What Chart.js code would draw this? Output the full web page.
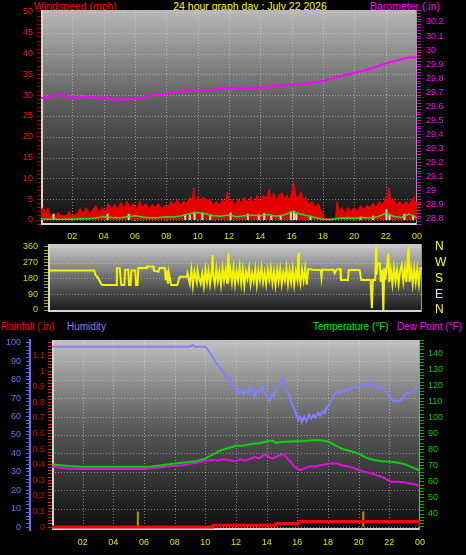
<!DOCTYPE html>
<html><head><meta charset="utf-8">
<script src="https://cdn.jsdelivr.net/npm/chart.js@4.4.1/dist/chart.umd.min.js"></script>
<style>
html,body{margin:0;padding:0;background:#000;width:466px;height:555px;overflow:hidden;}
canvas{position:absolute;left:0;}
.t{position:absolute;font-family:"Liberation Sans",Arial,sans-serif;font-size:10.5px;white-space:nowrap;line-height:12px;}
.b{font-size:10px;}
</style></head><body>
<div class="t" style="left:34px;top:0px;color:#ff0000">Windspeed (mph)</div>
<div class="t" style="left:150px;width:200px;text-align:center;top:0px;color:#ffff00">24 hour graph day : July 22 2026</div>
<div class="t" style="right:26px;top:0px;color:#ff00ff">Barometer (.in)</div>
<div class="t b" style="left:1px;top:321px;color:#ff0000">Rainfall (.in)</div>
<div class="t b" style="left:67px;top:321px;color:#8080ff">Humidity</div>
<div class="t b" style="left:313px;top:321px;color:#00ee00">Temperature (°F)</div>
<div class="t b" style="right:4px;top:321px;color:#ff00ff">Dew Point (°F)</div>
<canvas id="c1" width="466" height="245" style="top:0px"></canvas>
<canvas id="c2" width="466" height="82" style="top:238px"></canvas>
<canvas id="c3" width="466" height="216" style="top:334px"></canvas>
<script>
// ---------- tick labels ----------
const hourTickLabels = ['02','04','06','08','10','12','14','16','18','20','22','00'];
const hourTickValues = [2,4,6,8,10,12,14,16,18,20,22,24];
const windTickLabels = [0,5,10,15,20,25,30,35,40,45,50];
const baroTickLabels = [28.8,28.9,29,29.1,29.2,29.3,29.4,29.5,29.6,29.7,29.8,29.9,30,30.1,30.2];
const dirTickLabels = [0,90,180,270,360];
const compassLabels = ['N','E','S','W','N'];
const humidityTickLabels = [0,10,20,30,40,50,60,70,80,90,100];
const rainTickLabels = [0,0.1,0.2,0.3,0.4,0.5,0.6,0.7,0.8,0.9,1,1.1];
const tempTickLabels = [40,50,60,70,80,90,100,110,120,130,140];

// ---------- wind (mph) ----------
const windGustHours = [0,0.15,0.3,0.45,0.6,0.9,1.1,1.3,1.6,1.8,
  2.0,2.3,2.5,2.7,2.9,3.1,3.3,3.5,3.7,3.9,
  4.1,4.3,4.5,4.7,4.9,5.1,5.3,5.5,5.7,5.9,
  6.1,6.3,6.5,6.7,6.9,7.1,7.3,7.5,7.7,7.9,
  8.1,8.3,8.5,8.7,8.9,9.1,9.3,9.5,9.65,9.75,
  9.85,10.0,10.2,10.4,10.6,10.8,11.0,11.2,11.4,11.6,
  11.75,11.9,12.05,12.2,12.4,12.6,12.8,13.0,13.2,13.4,
  13.6,13.8,14.0,14.2,14.4,14.55,14.7,14.85,15.0,15.2,
  15.4,15.55,15.7,15.85,16.0,16.13,16.25,16.4,16.6,16.75,
  16.9,17.1,17.3,17.5,17.7,17.85,18.0,18.1,18.8,18.9,
  19.05,19.2,19.4,19.6,19.8,20.0,20.2,20.4,20.6,20.8,
  21.0,21.2,21.4,21.6,21.8,22.0,22.1,22.2,22.35,22.5,
  22.7,22.9,23.1,23.3,23.5,23.7,23.8,23.9,24];
const windGust = [2.5,3,1.5,2.8,1,1,1.8,1,1,2,
  1,1.5,2.8,1.5,3,1.2,2.5,3.5,1.5,3,
  2,4,2.5,3.8,2.5,4.2,2.8,4.5,3,4,
  2.5,4.5,3,4,2.5,3.8,3,4,2.5,3.5,
  3,4.5,3.5,5,3.5,4.5,4,5.5,4.5,7.8,
  4,5.5,4.8,5.5,4.5,5,3.5,4.5,3.5,5,
  4,6.6,4,5,3.5,5,4,5.5,4,5.5,
  4,6,4.5,6,5,7.4,4.5,6.5,4.5,6,
  6.5,5,6,4.5,6.5,9,6,5,6.8,4.5,
  5.5,3.5,4.5,3,4,2.5,1.5,0.3,0.3,4.4,
  2,3,1.5,3,2,3,2,3.5,2.5,3.5,
  3,4,3,4.5,3.5,5.5,4,7.8,4.5,5,
  3.5,4.5,3.5,4.5,3.5,5,5.5,4,4.5];
const windAvgHours = [0,0.5,1,1.5,2,2.5,3,3.5,4,4.5,5,5.5,6,6.5,7,7.5,8,8.5,9,9.5,10,10.5,11,11.5,12,
  12.5,13,13.5,14,14.5,15,15.5,16,16.5,17,17.5,18,18.5,19,19.5,20,20.5,21,21.5,22,22.5,23,23.5,24];
const windAvg = [0.3,0.2,0.2,0.2,0.2,0.3,0.3,0.5,0.8,0.6,0.5,0.8,1.0,0.7,0.5,0.6,0.8,0.7,1.0,1.5,1.8,1.5,1.0,0.9,1.2,
  0.8,1.0,1.2,1.0,1.3,0.9,1.2,2.0,1.5,1.0,0.6,0.2,0.1,0.4,0.5,0.4,0.6,0.5,0.8,1.6,0.9,0.6,1.4,0.5];
const windLightHours = [0.8,4.25,5.6,9.2,9.5,9.8,10.3,10.8,12.1,13.2,13.9,14.25,14.7,15.3,15.95,16.15,16.3,17.2,20.4,21.2,22.05,22.25,23.2,23.75];
const windLight = [1.5,1.5,1.5,1.4,1.2,2,1.8,1.2,1.8,1.5,1.3,1.6,1.2,1.2,2,2.2,1.5,1,0.8,1,2.6,1.5,1.5,1.2];

// ---------- barometer (in) ----------
const baroHours = [0,0.5,1,1.5,2,2.5,3,3.5,4,4.5,5,5.5,6,6.5,7,7.5,8,8.5,9,9.5,10,10.5,11,11.5,12,
  12.5,13,13.5,14,14.5,15,15.5,16,16.5,17,17.5,18,18.5,19,19.5,20,20.5,21,21.5,22,22.5,23,23.5,24];
const baroValues = [29.66,29.67,29.68,29.675,29.66,29.665,29.67,29.66,29.665,29.645,
  29.65,29.65,29.655,29.665,29.68,29.685,29.69,29.698,29.705,29.717,
  29.715,29.717,29.718,29.725,29.733,29.73,29.73,29.732,29.73,29.735,
  29.748,29.75,29.752,29.758,29.763,29.77,29.78,29.795,29.81,29.825,
  29.838,29.85,29.868,29.885,29.905,29.92,29.935,29.948,29.95];

// ---------- wind direction (deg) ----------
const dirHours = [0,2.97,3.05,3.2,3.4,3.5,4.4,4.42,4.6,4.7,4.9,4.95,5.15,5.2,5.3,5.35,5.6,5.65,5.75,5.8,6.3,6.35,6.75,6.8,7.1,7.15,7.5,7.55,7.6,7.7,7.75,7.9,8.3,8.35,8.45,8.9,8.95,9.1,9.2,9.3,9.4,9.55,9.6,9.7,9.8,9.9,10.0,10.1,10.2,10.3,10.4,10.5,10.57,10.6,10.7,10.8,10.9,11.0,11.1,11.2,11.3,11.4,11.5,11.58,11.62,11.7,11.8,11.9,12.0,12.1,12.2,12.3,12.4,12.5,12.6,12.7,12.8,12.9,13.0,13.1,13.2,13.3,13.4,13.5,13.6,13.7,13.8,13.9,14.0,14.1,14.2,14.3,14.4,14.5,14.6,14.7,14.8,14.9,15.0,15.1,15.2,15.3,15.4,15.5,15.6,15.7,15.8,15.9,16.0,16.07,16.1,16.2,16.3,16.4,16.5,16.6,16.7,17.0,17.5,17.55,17.6,18.3,18.4,18.5,18.75,18.8,19.25,19.3,20.0,20.1,20.7,20.78,20.85,21.0,21.05,21.08,21.15,21.3,21.35,21.45,21.52,21.58,21.65,21.75,21.84,21.9,22.0,22.1,22.2,22.3,22.4,22.5,22.6,22.7,22.8,22.9,23.0,23.13,23.2,23.3,23.4,23.5,23.6,23.7,23.8,23.9,24];
const dirDegrees = [225,225,200,185,150,143,143,238,238,143,143,230,230,143,143,225,225,143,143,240,240,248,248,225,220,240,240,170,230,150,215,143,143,160,190,190,210,150,230,140,220,160,225,180,150,210,140,230,160,225,150,215,314,200,150,235,165,220,145,240,170,230,150,324,190,230,160,240,150,225,170,245,155,230,140,220,180,240,150,210,165,235,145,225,170,240,160,215,150,230,175,240,155,220,145,230,165,235,150,215,170,240,150,225,160,235,145,220,175,327,200,150,230,170,240,145,235,230,228,185,230,230,210,230,235,171,171,228,228,171,171,10,171,171,360,200,267,267,160,230,0,240,170,250,324,160,230,150,240,165,230,150,225,257,165,240,160,360,160,235,150,240,160,235,150,240,240];

// ---------- humidity (%) ----------
const humHours = [0,9.0,9.2,9.3,10.0,10.2,10.4,10.5,10.65,10.8,10.9,11.1,11.3,11.5,11.6,11.75,11.9,12.0,12.1,12.2,12.35,12.5,12.6,12.75,12.9,13.0,13.1,13.2,13.35,13.5,13.7,13.8,13.95,14.1,14.2,14.3,14.45,14.6,14.75,14.9,15.05,15.15,15.3,15.45,15.6,15.75,15.9,16.05,16.15,16.3,16.45,16.6,16.75,16.9,17.05,17.2,17.35,17.5,17.65,17.8,17.9,18.05,18.2,18.4,18.6,18.8,19.0,19.2,19.4,19.6,19.8,20.0,20.2,20.4,20.6,20.8,21.0,21.2,21.4,21.6,21.8,22.0,22.2,22.4,22.6,22.8,23.0,23.2,23.4,23.6,23.8,24];
const humidity = [98,98,99,98,98,96,93.5,92,90,88,87,85,82.5,80,81,77,76,74,75,72.5,74,72,74,73,76,74,75,70.5,74,73,77,74,72,70,68.5,72,71,74.5,76,79,81,78,74,72,68,65,62,58,60,57,60,57.5,61,59,61,59.5,62,60.5,63,62,64.5,66,69,71.5,73.5,73,74.5,74,75,75.5,76.5,76,77,77.5,77,78.3,76.5,75.5,76,74.5,74,71,69,68.5,68.5,69,72,73,73,74.5,76,75];

// ---------- temperature / dew point (F) ----------
const tempHours = [0,1,2,4,6,6.5,7.5,8.5,9.5,10,10.5,11,11.5,12,12.5,13,13.5,14,14.4,14.6,15,15.5,16,16.5,17,17.5,18,18.5,19,19.5,20,20.5,21,21.5,22,22.5,23,23.5,24];
const temperature = [70.9,69.8,69.4,69.4,69.4,69.5,70.8,71.8,73,74.5,77,79.5,81,82.4,82.6,83.5,84,85,85.6,84.2,84.7,85.1,85.2,85.4,85.8,85.8,85,82.5,80.2,79,77.5,75,73.5,72.8,72.6,72,71,69,67];
const dewHours = [0,1,2,4,6,6.5,7.5,8.5,9.5,10,10.4,10.8,11.2,11.5,12,12.3,12.6,13,13.2,13.5,13.8,14,14.2,14.4,14.7,15.1,15.4,15.6,15.8,16,16.2,16.5,16.9,17.2,17.5,17.8,18.2,18.6,18.9,19.3,19.7,20.3,20.8,21.2,21.6,21.9,22.1,22.5,23,23.3,23.6,23.8,24];
const dewPoint = [69.4,68.3,68,68,68,68.4,69.5,70.3,72,73,73.5,73.2,74,73.5,72.8,74,73.2,74.5,75.5,74.5,76.5,76.6,75,74.5,76,77.3,74,72,69.5,68,67.3,68.5,69.8,69.5,70.3,70.7,71.5,71.3,70.3,69.5,68.4,66.5,65.3,64,62.8,61,60.1,60,59.8,59,58.6,58,57.4];

// ---------- rainfall (in) ----------
const rainHours = [0,10.5,14.6,16.1,23.95,24];
const rainfall = [0,0.012,0.022,0.035,0.035,0];
const rateHours = [5.6,20.3];
const rainRate = [0.1,0.1];

// ---------- helpers ----------
const FAM = '"Liberation Sans", Arial, sans-serif';
const f9 = {family: FAM, size: 9};
const pts = (xs, ys) => xs.slice(0, Math.min(xs.length, ys.length)).map((x, i) => ({x, y: ys[i]}));
const segs = (xs, ys) => xs.flatMap((x, i) => [{x, y: 0}, {x, y: ys[i]}, {x, y: null}]);
const labelFrom = arr => v => { const m = arr.find(l => Math.abs(l - v) < 1e-6); return m === undefined ? '' : String(m); };
const hourLabel = v => { const i = hourTickValues.findIndex(h => Math.abs(h - v) < 1e-6); return i < 0 ? '' : hourTickLabels[i]; };
const onlyMultiples = step => s => { s.ticks = s.ticks.filter(t => Math.abs(t.value / step - Math.round(t.value / step)) < 1e-4); };
const fitW = w => s => { s.width = w; s.paddingTop = 0; s.paddingBottom = 0; };

function panelPlugin(cfg) {
  return {
    id: 'panel_' + cfg.name,
    beforeDraw(chart) {
      const a = chart.chartArea, c = chart.ctx;
      const g = c.createLinearGradient(0, a.top, 0, a.bottom);
      cfg.stops.forEach(s => g.addColorStop(s[0], s[1]));
      c.save(); c.fillStyle = g; c.fillRect(a.left, a.top, a.right - a.left, a.bottom - a.top); c.restore();
    },
    beforeDatasetsDraw(chart) {
      const a = chart.chartArea, c = chart.ctx;
      c.save();
      c.strokeStyle = 'rgba(230,230,230,0.5)'; c.lineWidth = 1; c.setLineDash([1, 2]);
      const xs = chart.scales.x;
      cfg.vLines.forEach(v => { const p = Math.round(xs.getPixelForValue(v)) + 0.5; c.beginPath(); c.moveTo(p, a.top); c.lineTo(p, a.bottom); c.stroke(); });
      const ys = chart.scales[cfg.hAxis];
      cfg.hLines.forEach(v => { const p = Math.round(ys.getPixelForValue(v)) + 0.5; if (p <= a.top + 1 || p >= a.bottom - 1) return; c.beginPath(); c.moveTo(a.left, p); c.lineTo(a.right, p); c.stroke(); });
      c.setLineDash([]);
      c.fillStyle = '#d4d4d4';
      c.fillRect(a.left, a.top, 2, a.bottom - a.top);
      c.fillRect(a.left, a.bottom - 2, a.right - a.left, 2);
      c.fillStyle = '#9a9a9a';
      c.fillRect(a.right - 1, a.top, 1, a.bottom - a.top);
      c.restore();
    }
  };
}
const baseOpts = {responsive: false, animation: false, events: [], plugins: {legend: {display: false}, tooltip: {enabled: false}}};
const xAxis = (pad, show) => ({
  type: 'linear', min: 0, max: 24, offset: false, display: show,
  afterFit: s => { s.height = 20; },
  grid: {display: false, drawTicks: false, offset: false}, border: {display: false},
  ticks: {stepSize: 2, autoSkip: false, includeBounds: false, callback: hourLabel, color: '#e0e000', font: f9, padding: pad, maxRotation: 0}
});

// ---------- chart 1: wind + barometer ----------
new Chart(document.getElementById('c1'), {
  type: 'line',
  data: {datasets: [
    {label: 'Barometer', data: pts(baroHours, baroValues), yAxisID: 'yb', borderColor: '#ff00ff', borderWidth: 2, pointRadius: 0, order: 1},
    {label: 'Average wind', data: pts(windAvgHours, windAvg), yAxisID: 'yw', borderColor: '#20e020', borderWidth: 1.5, pointRadius: 0, order: 2},
    {label: 'Wind', data: segs(windLightHours, windLight), yAxisID: 'yw', borderColor: '#d8f4d0', borderWidth: 2, pointRadius: 0, spanGaps: false, order: 3},
    {label: 'Gust', data: pts(windGustHours, windGust), yAxisID: 'yw', borderColor: '#ff0000', backgroundColor: '#e40000', fill: 'origin', borderWidth: 1, pointRadius: 0, order: 4}
  ]},
  options: Object.assign({}, baseOpts, {
    layout: {padding: {top: 10, left: 0, right: 0, bottom: 0}},
    scales: {
      x: xAxis(6, true),
      yw: {position: 'left', min: -1.2, max: 50.48, afterFit: fitW(41), afterBuildTicks: onlyMultiples(1),
        ticks: {stepSize: 1, autoSkip: false, includeBounds: false, callback: labelFrom(windTickLabels), color: '#ff1010', font: f9, padding: 4},
        grid: {drawOnChartArea: false, tickLength: 4, tickColor: '#b00000'}, border: {display: false}},
      yb: {position: 'right', min: 28.757, max: 30.285, afterFit: fitW(49), afterBuildTicks: onlyMultiples(0.02),
        ticks: {stepSize: 0.02, autoSkip: false, includeBounds: false, callback: labelFrom(baroTickLabels), color: '#ff00ff', font: f9, padding: 5},
        grid: {drawOnChartArea: false, tickLength: 4, tickColor: '#d000d0'}, border: {display: false}}
    }
  }),
  plugins: [panelPlugin({name: 'top', hAxis: 'yw', hLines: windTickLabels, vLines: hourTickValues.slice(0, 11),
    stops: [[0, '#b8b8b8'], [0.45, '#5a5a5a'], [1, '#101010']]})]
});

// ---------- chart 2: wind direction ----------
new Chart(document.getElementById('c2'), {
  type: 'line',
  data: {datasets: [
    {label: 'Wind direction', data: pts(dirHours, dirDegrees), yAxisID: 'yd', borderColor: '#f4f400', borderWidth: 2, pointRadius: 0}
  ]},
  options: Object.assign({}, baseOpts, {
    layout: {padding: {top: 6, left: 0, right: 0, bottom: 8}},
    scales: {
      x: {type: 'linear', min: 0, max: 24, display: false},
      yd: {position: 'left', min: -11.4, max: 377, afterFit: fitW(48), afterBuildTicks: onlyMultiples(18),
        ticks: {stepSize: 18, autoSkip: false, includeBounds: false, callback: labelFrom(dirTickLabels), color: '#d8d800', font: f9, padding: 6},
        grid: {drawOnChartArea: false, tickLength: 4, tickColor: '#a8a800'}, border: {display: false}},
      yc: {position: 'right', min: -11.4, max: 377, afterFit: fitW(44),
        afterBuildTicks: s => { s.ticks = dirTickLabels.map(v => ({value: v})); },
        ticks: {autoSkip: false, callback: (v, i) => compassLabels[i], color: '#ffff00', font: {family: FAM, size: 12}, padding: 13},
        grid: {display: false, drawTicks: false}, border: {display: false}}
    }
  }),
  plugins: [panelPlugin({name: 'mid', hAxis: 'yd', hLines: dirTickLabels, vLines: [],
    stops: [[0, '#cccccc'], [0.5, '#6a6a6a'], [1, '#181818']]})]
});

// ---------- chart 3: rain / humidity / temperature / dew point ----------
new Chart(document.getElementById('c3'), {
  type: 'line',
  data: {datasets: [
    {label: 'Humidity', data: pts(humHours, humidity), yAxisID: 'yh', borderColor: '#8080ff', borderWidth: 2, pointRadius: 0, order: 1},
    {label: 'Temperature', data: pts(tempHours, temperature), yAxisID: 'yt', borderColor: '#10d010', borderWidth: 2, pointRadius: 0, order: 2},
    {label: 'Dew Point', data: pts(dewHours, dewPoint), yAxisID: 'yt', borderColor: '#e010e0', borderWidth: 2, pointRadius: 0, order: 3},
    {label: 'Rainfall', data: pts(rainHours, rainfall), yAxisID: 'yr', borderColor: '#ff0000', borderWidth: 3, pointRadius: 0, stepped: 'before', order: 4},
    {label: 'Rain rate', data: segs(rateHours, rainRate), yAxisID: 'yr', borderColor: '#a89800', borderWidth: 2, pointRadius: 0, spanGaps: false, order: 5}
  ]},
  options: Object.assign({}, baseOpts, {
    layout: {padding: {top: 6, left: 0, right: 0, bottom: 0}},
    scales: {
      x: xAxis(7, true),
      yh: {position: 'left', weight: 1, min: -1.6, max: 101.6, afterFit: fitW(30), afterBuildTicks: onlyMultiples(2),
        ticks: {stepSize: 2, autoSkip: false, includeBounds: false, callback: labelFrom(humidityTickLabels), color: '#7070ff', font: f9, padding: 5},
        grid: {drawOnChartArea: false, tickLength: 4, tickColor: '#6060ff'}, border: {display: true, color: '#6a6aff', width: 2}},
      yr: {position: 'left', weight: 0, min: -0.019, max: 1.199, afterFit: fitW(22), afterBuildTicks: onlyMultiples(0.02),
        ticks: {stepSize: 0.02, autoSkip: false, includeBounds: false, callback: labelFrom(rainTickLabels), color: '#e00000', font: f9, padding: 3},
        grid: {drawOnChartArea: false, tickLength: 4, tickColor: '#e02020'}, border: {display: false}},
      yt: {position: 'right', min: 30.06, max: 148.1, afterFit: fitW(46), afterBuildTicks: onlyMultiples(2),
        ticks: {stepSize: 2, autoSkip: false, includeBounds: false, callback: labelFrom(tempTickLabels), color: '#00d000', font: f9, padding: 4},
        grid: {drawOnChartArea: false, tickLength: 4, tickColor: '#00b000'}, border: {display: false}}
    }
  }),
  plugins: [panelPlugin({name: 'bot', hAxis: 'yh', hLines: humidityTickLabels, vLines: hourTickValues.slice(0, 11),
    stops: [[0, '#c2c2c2'], [0.45, '#5a5a5a'], [1, '#0e0e0e']]})]
});
</script>
</body></html>
